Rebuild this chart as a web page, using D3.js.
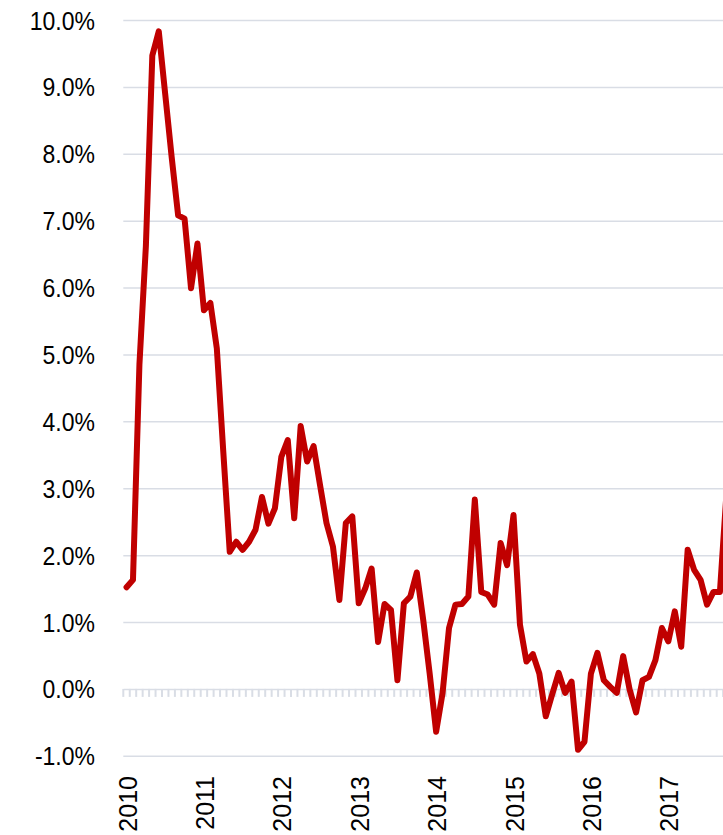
<!DOCTYPE html>
<html>
<head>
<meta charset="utf-8">
<script src="https://cdn.jsdelivr.net/npm/d3@7"></script>
<style>
  html, body { margin: 0; padding: 0; background: #ffffff; overflow: hidden; }
  svg { display: block; }
  text { font-family: "Liberation Sans", Arial, sans-serif; fill: #000; }
</style>
</head>
<body>
<svg id="chart" width="723" height="835"></svg>
<script>
// ---- data ----
const years = ["2010", "2011", "2012", "2013", "2014", "2015", "2016", "2017"];
const yTicks = [-1, 0, 1, 2, 3, 4, 5, 6, 7, 8, 9, 10];
// monthly values (%), Jan 2010 onward
const values = [
  1.52, 1.63, 4.85, 6.62, 9.47, 9.83, 8.89, 7.95, 7.08, 7.03, 5.99, 6.66,
  5.66, 5.77, 5.09, 3.55, 2.05, 2.20, 2.08, 2.20, 2.38, 2.87, 2.47, 2.70,
  3.47, 3.72, 2.55, 3.93, 3.40, 3.63, 3.05, 2.48, 2.13, 1.33, 2.48, 2.58,
  1.28, 1.50, 1.80, 0.70, 1.27, 1.18, 0.13, 1.28, 1.38, 1.74, 1.03, 0.23,
  -0.64, -0.06, 0.91, 1.26, 1.27, 1.38, 2.83, 1.45, 1.41, 1.26, 2.18, 1.85,
  2.60, 0.96, 0.41, 0.52, 0.23, -0.41, -0.08, 0.24, -0.06, 0.11, -0.91, -0.79,
  0.23, 0.54, 0.13, 0.03, -0.06, 0.49, -0.01, -0.35, 0.13, 0.18, 0.43, 0.91,
  0.71, 1.16, 0.63, 2.08, 1.78, 1.63, 1.26, 1.45, 1.45, 2.90
];
const months = [];
years.forEach(yr => { for (let m = 1; m <= 12; m++) months.push(yr + "-" + String(m).padStart(2, "0")); });
const categories = months.slice(0, values.length);

// ---- layout ----
const svg = d3.select("#chart");
const plotLeft = 123.3, step = 6.45;
const plotRight = plotLeft + categories.length * step;
const plotTop = 20, plotBottom = 755.8;

const x = d3.scaleBand().domain(categories).range([plotLeft, plotRight]).padding(0);
const y = d3.scaleLinear().domain([-1, 10]).range([plotBottom, plotTop]);

const gridColor = "#d9dde5";

// gridlines
const grid = svg.append("g")
  .attr("transform", `translate(${plotLeft},0)`)
  .call(d3.axisLeft(y).tickValues(yTicks.filter(v => v !== 0)).tickSize(-(plotRight - plotLeft)).tickFormat(""));
grid.select(".domain").remove();
grid.selectAll("line").attr("stroke", gridColor).attr("stroke-width", 1.5);

// y labels
const yl = svg.append("g")
  .attr("transform", `translate(95,0)`)
  .call(d3.axisLeft(y).tickValues(yTicks).tickSize(0).tickPadding(0)
        .tickFormat(v => d3.format(".1%")(v / 100).replace("\u2212", "-")));
yl.select(".domain").remove();
yl.selectAll("text")
  .attr("x", 0)
  .attr("dy", "0.36em")
  .attr("transform", "scale(0.92,1)")
  .attr("fill", "#000")
  .style("font-size", "25px")
  .style("font-family", "'Liberation Sans', Arial, sans-serif");

// zero axis with monthly tick marks
const zero = svg.append("g").attr("transform", `translate(0,${y(0)})`);
zero.call(d3.axisBottom(x).tickSize(0).tickFormat(""));
zero.select(".domain").attr("stroke", gridColor).attr("stroke-width", 1.5);
zero.selectAll(".tick").remove();
zero.selectAll("line.mt").data(categories).join("line")
  .attr("class", "mt")
  .attr("x1", d => x(d)).attr("x2", d => x(d))
  .attr("y1", 0).attr("y2", 8)
  .attr("stroke", gridColor).attr("stroke-width", 2);

// year labels (rotated)
svg.append("g").selectAll("text").data(years).join("text")
  .attr("transform", d => `translate(${x(d + "-01") + x.bandwidth() / 2 + 1},776) rotate(-90)`)
  .attr("text-anchor", "end")
  .attr("dy", "0.36em")
  .style("font-size", "25px")
  .text(d => d);

// line
const line = d3.line()
  .x((d, i) => x(categories[i]) + x.bandwidth() / 2)
  .y(d => y(d));
svg.append("path")
  .datum(values)
  .attr("fill", "none")
  .attr("stroke", "#c00000")
  .attr("stroke-width", 6)
  .attr("stroke-linejoin", "round")
  .attr("stroke-linecap", "round")
  .attr("d", line);
</script>
</body>
</html>
